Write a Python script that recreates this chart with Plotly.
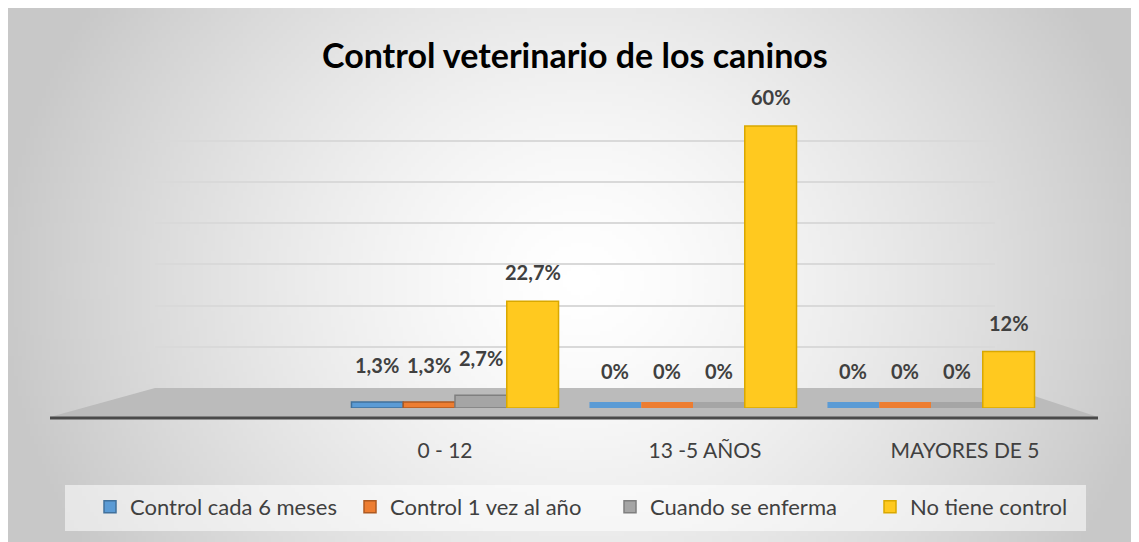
import base64
import struct
import zlib

import plotly.graph_objects as go

# ---------------- data ----------------
categories = ["0 - 12", "13 -5 AÑOS", "MAYORES DE 5"]
series_names = ["Control cada 6 meses", "Control 1 vez al año", "Cuando se enferma", "No tiene control"]
control_6_meses = [1.3, 0, 0]
control_1_vez = [1.3, 0, 0]
cuando_enferma = [2.7, 0, 0]
no_tiene_control = [22.7, 60, 12]
title_text = "Control veterinario de los caninos"

series_values = [control_6_meses, control_1_vez, cuando_enferma, no_tiene_control]
fill_colors = ["#5B9BD5", "#ED7D31", "#A5A5A5", "#FFC91F"]
line_colors = ["#41719C", "#AE5A21", "#7F7F7F", "#D9A800"]

# page has an 8px body margin; the figure occupies 8..1139 x 8..542 of the window
OFF = 8
W, H = 1139 - OFF, 542 - OFF


def px(x):
    return (x - OFF) / W


def py(y):
    return 1 - (y - OFF) / H


# ---------------- background gradient image ----------------
def gradient_png():
    scale = 4
    w = W // scale
    h = H // scale
    cx, cy, rx, ry = 580, 280, 580, 520
    raw = bytearray()
    for j in range(h):
        raw.append(0)
        Y = OFF + (j + 0.5) * scale
        for i in range(w):
            X = OFF + (i + 0.5) * scale
            t = (((X - cx) / rx) ** 2 + ((Y - cy) / ry) ** 2) ** 0.5
            t = min(t, 1.0)
            v = int(round(255 - 55 * t ** 1.4))
            raw.append(max(0, min(255, v)))

    def chunk(tag, data):
        c = struct.pack(">I", len(data)) + tag + data
        return c + struct.pack(">I", zlib.crc32(tag + data) & 0xFFFFFFFF)

    png = b"\x89PNG\r\n\x1a\n"
    png += chunk(b"IHDR", struct.pack(">IIBBBBB", w, h, 8, 0, 0, 0, 0))
    png += chunk(b"IDAT", zlib.compress(bytes(raw), 9))
    png += chunk(b"IEND", b"")
    return "data:image/png;base64," + base64.b64encode(png).decode()


fig = go.Figure()

# invisible trace for the back-wall grid subplot (x/y)
fig.add_trace(go.Scatter(x=[0], y=[0], mode="markers", marker=dict(opacity=0),
                         showlegend=False, hoverinfo="skip", xaxis="x", yaxis="y"))

bargap = 0.13
slot = (1 - bargap) / 4

for k, (name, vals) in enumerate(zip(series_names, series_values)):
    # zero-valued bars are drawn as a flat coloured patch on the floor
    lw = [12 if v == 0 else 1.5 for v in vals]
    lc = [fill_colors[k] if v == 0 else line_colors[k] for v in vals]
    fig.add_trace(go.Bar(
        name=name, x=categories, y=vals,
        marker=dict(color=fill_colors[k], line=dict(color=lc, width=lw)),
        xaxis="x2", yaxis="y2",
    ))

# invisible trace carrying the category labels on the perspective-shifted label axis
fig.add_trace(go.Scatter(x=categories, y=[0] * len(categories), mode="markers",
                         marker=dict(opacity=0), showlegend=False, hoverinfo="skip",
                         xaxis="x3", yaxis="y2"))

# data labels above bars
annotations = []
for k, vals in enumerate(series_values):
    for i, v in enumerate(vals):
        label = (f"{v:g}".replace(".", ",")) + "%"
        annotations.append(dict(
            x=i + (k - 1.5) * slot, y=v, xref="x2", yref="y2",
            text=label, showarrow=False, yshift=37 if v < 5 else 29,
            font=dict(family="Lato, Open Sans, sans-serif", size=20, color="#404040", weight="bold"),
        ))

annotations.append(dict(
    x=px(575), y=py(55), xref="paper", yref="paper", text="<b>" + title_text + "</b>",
    showarrow=False, xanchor="center", yanchor="middle",
    font=dict(family="Lato, Open Sans, sans-serif", size=34, color="#000000"),
))

shapes = [
    # floor
    dict(type="path", xref="paper", yref="paper", layer="below",
         path=f"M {px(50)},{py(417)} L {px(155)},{py(388)} L {px(1010)},{py(388)} L {px(1098)},{py(417)} Z",
         fillcolor="#BBBBBB", line=dict(width=0)),
    # floor front dark edge
    dict(type="line", xref="paper", yref="paper", layer="below",
         x0=px(50), x1=px(1098), y0=py(418), y1=py(418),
         line=dict(color="#4A4A4A", width=3)),
    # legend band
    dict(type="rect", xref="paper", yref="paper", layer="below",
         x0=px(65), x1=px(1086), y0=py(531), y1=py(485),
         fillcolor="rgba(255,255,255,0.55)", line=dict(width=0)),
]

group_px = 238
center0 = 455
x2_left = (50 - center0) / group_px
x2_right = (1098 - center0) / group_px

label_px = 260
label0 = 445
x3_left = (50 - label0) / label_px
x3_right = (1098 - label0) / label_px

fig.update_layout(
    width=W, height=H, autosize=False,
    margin=dict(l=0, r=0, t=0, b=0),
    paper_bgcolor="#FFFFFF", plot_bgcolor="rgba(0,0,0,0)",
    barmode="group", bargap=bargap, bargroupgap=0,
    font=dict(family="Lato, Open Sans, sans-serif", color="#404040"),
    images=[dict(source=gradient_png(), xref="paper", yref="paper",
                 x=0, y=1, sizex=1, sizey=1,
                 xanchor="left", yanchor="top", sizing="stretch", layer="below")],
    shapes=shapes,
    annotations=annotations,
    showlegend=True,
    legend=dict(orientation="h", x=px(90), xanchor="left", y=py(507), yanchor="middle",
                bgcolor="rgba(0,0,0,0)", font=dict(size=22, color="#404040"),
                entrywidth=215, entrywidthmode="pixels",
                traceorder="normal", itemclick=False),
    xaxis=dict(domain=[px(155), px(995)], range=[0, 1], visible=False, fixedrange=True),
    yaxis=dict(domain=[py(388), py(100)], range=[0, 288 / 4.12], showticklabels=False,
               tickvals=[10, 20, 30, 40, 50, 60], showgrid=True, gridcolor="#D9D9D9",
               gridwidth=1.5, zeroline=False, showline=False, fixedrange=True),
    xaxis2=dict(domain=[px(50), px(1098)], range=[x2_left, x2_right], anchor="y2",
                type="category", showgrid=False, zeroline=False, showline=False,
                showticklabels=False, ticks="", fixedrange=True),
    xaxis3=dict(overlaying="x2", anchor="y2", side="bottom", range=[x3_left, x3_right],
                type="category", showgrid=False, zeroline=False, showline=False,
                ticks="outside", ticklen=24, tickcolor="rgba(0,0,0,0)",
                tickfont=dict(size=21, color="#404040"), fixedrange=True),
    yaxis2=dict(domain=[py(408), py(100)], range=[0, 308 / 4.7], anchor="x2",
                visible=False, showgrid=False, zeroline=False, fixedrange=True),
    hovermode=False,
)

fig.write_html("out.html")
